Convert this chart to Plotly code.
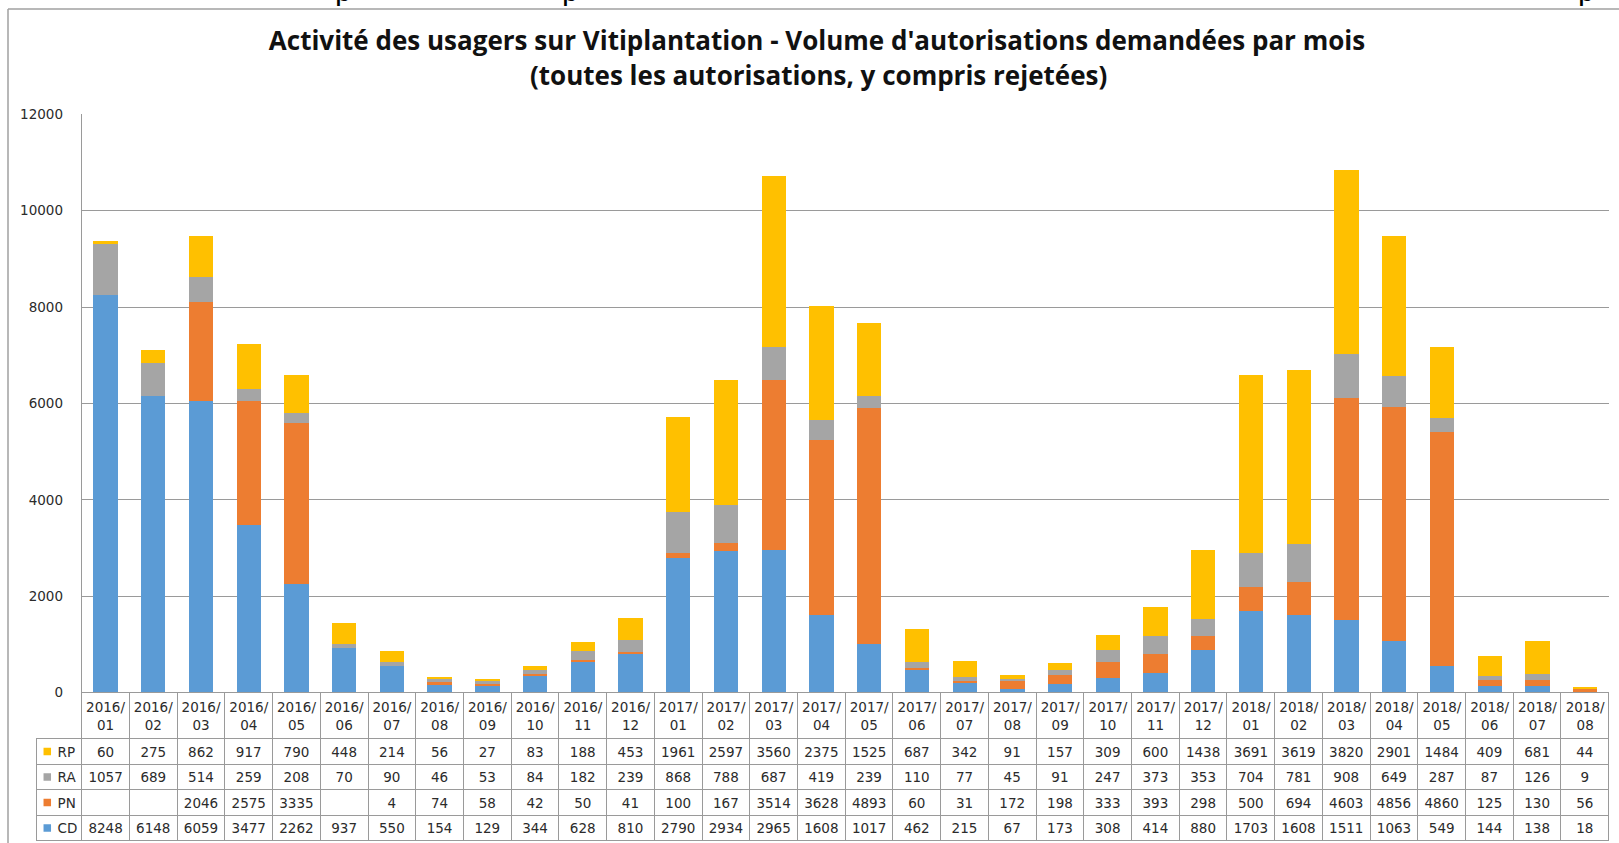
import plotly.graph_objects as go

# months shown on the category axis / table header
months = ["2016/01", "2016/02", "2016/03", "2016/04", "2016/05", "2016/06", "2016/07", "2016/08",
          "2016/09", "2016/10", "2016/11", "2016/12", "2017/01", "2017/02", "2017/03", "2017/04",
          "2017/05", "2017/06", "2017/07", "2017/08", "2017/09", "2017/10", "2017/11", "2017/12",
          "2018/01", "2018/02", "2018/03", "2018/04", "2018/05", "2018/06", "2018/07", "2018/08"]

# volumes per type of authorisation
rp = [60, 275, 862, 917, 790, 448, 214, 56, 27, 83, 188, 453, 1961, 2597, 3560, 2375,
      1525, 687, 342, 91, 157, 309, 600, 1438, 3691, 3619, 3820, 2901, 1484, 409, 681, 44]
ra = [1057, 689, 514, 259, 208, 70, 90, 46, 53, 84, 182, 239, 868, 788, 687, 419,
      239, 110, 77, 45, 91, 247, 373, 353, 704, 781, 908, 649, 287, 87, 126, 9]
pn = [None, None, 2046, 2575, 3335, None, 4, 74, 58, 42, 50, 41, 100, 167, 3514, 3628,
      4893, 60, 31, 172, 198, 333, 393, 298, 500, 694, 4603, 4856, 4860, 125, 130, 56]
cd = [8248, 6148, 6059, 3477, 2262, 937, 550, 154, 129, 344, 628, 810, 2790, 2934, 2965, 1608,
      1017, 462, 215, 67, 173, 308, 414, 880, 1703, 1608, 1511, 1063, 549, 144, 138, 18]

series_names = ["RP", "RA", "PN", "CD"]   # table order, top to bottom
series_colors = {"CD": "#5B9BD5", "PN": "#ED7D31", "RA": "#A5A5A5", "RP": "#FFC000"}
series_values = {"RP": rp, "RA": ra, "PN": pn, "CD": cd}

W, H = 1619, 843
font_family = "DejaVu Sans"
txt_col = "#2b2b2b"
grid_col = "#9a9a9a"

# pixel layout of the Excel chart (top-left origin)
plot_left, plot_right = 81.7, 1609
plot_top, plot_bottom = 114.3, 692.7
table_left = 36.7
header_h, row_h = 46, 25.5

fig = go.Figure()

# stacked bars, bottom to top
for name in ["CD", "PN", "RA", "RP"]:
    fig.add_trace(go.Bar(
        x=months,
        y=series_values[name],
        name=name,
        marker_color=series_colors[name],
        marker_line_width=0,
        xaxis="x", yaxis="y",
    ))

# data table under the chart
key_col = ["\u00a0\u00a0\u00a0" + n for n in series_names]
month_cols = []
for i in range(len(months)):
    col = []
    for n in series_names:
        v = series_values[n][i]
        col.append("" if v is None else str(v))
    month_cols.append(col)

n_cols = len(months)
fig.add_trace(go.Table(
    domain=dict(x=[table_left / W, plot_right / W], y=[0, 1 - plot_bottom / H]),
    columnwidth=[plot_left - table_left] + [(plot_right - plot_left) / n_cols] * n_cols,
    header=dict(
        values=[""] * (n_cols + 1),
        height=header_h,
        fill=dict(color="rgba(0,0,0,0)"),
        line=dict(color=["rgba(0,0,0,0)"] + [grid_col] * n_cols, width=1),
        font=dict(family=font_family, size=13.5, color=txt_col),
    ),
    cells=dict(
        values=[key_col] + month_cols,
        height=row_h,
        align=["left"] + ["center"] * n_cols,
        fill=dict(color=["rgba(0,0,0,0)"] + ["white"] * n_cols),
        line=dict(color=grid_col, width=1),
        font=dict(family=font_family, size=13.5, color=txt_col),
    ),
))

# legend keys of the table (coloured squares)
fig.add_trace(go.Scatter(
    x=[0.235] * len(series_names),
    y=series_names,
    mode="markers",
    marker=dict(symbol="square", size=7.5, color=[series_colors[n] for n in series_names]),
    xaxis="x2", yaxis="y2",
    hoverinfo="skip",
))

title_font = dict(family="Open Sans", size=26, color="#111111")

fig.update_layout(
    width=W, height=H,
    margin=dict(l=0, r=0, t=0, b=0, pad=0, autoexpand=False),
    paper_bgcolor="white",
    plot_bgcolor="white",
    barmode="stack",
    bargap=0.49,
    showlegend=False,
    title=dict(
        text="<b>Activité des usagers sur Vitiplantation - Volume d'autorisations demandées par mois</b>",
        x=817 / W, xanchor="center",
        y=1 - 41 / H, yanchor="middle",
        font=title_font,
    ),
    xaxis=dict(
        domain=[plot_left / W, plot_right / W],
        tickvals=months,
        ticktext=[m.replace("/", "/<br>") for m in months],
        tickfont=dict(family=font_family, size=13.5, color=txt_col),
        ticklabelstandoff=5,
        automargin=False,
        showgrid=False,
        zeroline=False,
        showline=False,
        ticks="",
    ),
    yaxis=dict(
        domain=[1 - plot_bottom / H, 1 - plot_top / H],
        range=[0, 12000],
        dtick=2000,
        tickformat="d",
        automargin=False,
        showgrid=True,
        gridcolor=grid_col,
        gridwidth=1,
        zeroline=False,
        showline=True,
        linecolor=grid_col,
        linewidth=1,
        ticks="",
        ticklabelstandoff=15,
        tickfont=dict(family=font_family, size=13.5, color=txt_col),
    ),
    xaxis2=dict(
        domain=[table_left / W, plot_left / W], anchor="y2",
        range=[0, 1], visible=False, fixedrange=True,
    ),
    yaxis2=dict(
        domain=[1 - (plot_bottom + header_h + 4 * row_h) / H, 1 - (plot_bottom + header_h) / H],
        anchor="x2",
        type="category",
        categoryorder="array",
        categoryarray=series_names[::-1],
        range=[-0.5, 3.5],
        visible=False, fixedrange=True,
    ),
    shapes=[
        # outer chart border (top and left edges visible in the crop)
        dict(type="line", xref="paper", yref="paper", x0=8 / W, x1=1.01, y0=1 - 9 / H, y1=1 - 9 / H,
             line=dict(color="#a0a0a0", width=1.5)),
        dict(type="line", xref="paper", yref="paper", x0=8 / W, x1=8 / W, y0=-0.01, y1=1 - 9 / H,
             line=dict(color="#a0a0a0", width=1.5)),
    ],
    annotations=[
        dict(text="<b>(toutes les autorisations, y compris rejetées)</b>",
             x=818 / W, y=1 - 75 / H, xref="paper", yref="paper",
             xanchor="center", yanchor="middle", showarrow=False,
             font=title_font),
    ] + [
        # descenders of the cropped text sitting above the chart
        dict(text="p", x=(xp - 3) / W, y=1 - 9 / H, xref="paper", yref="paper",
             xanchor="left", yanchor="bottom", showarrow=False,
             font=dict(family="Lato", size=30, color="black"))
        for xp in [336, 563, 1579]
    ],
)

fig.write_html("out.html", config={"displayModeBar": False},
               post_script="document.body.style.margin='0';document.body.style.overflow='hidden';")
